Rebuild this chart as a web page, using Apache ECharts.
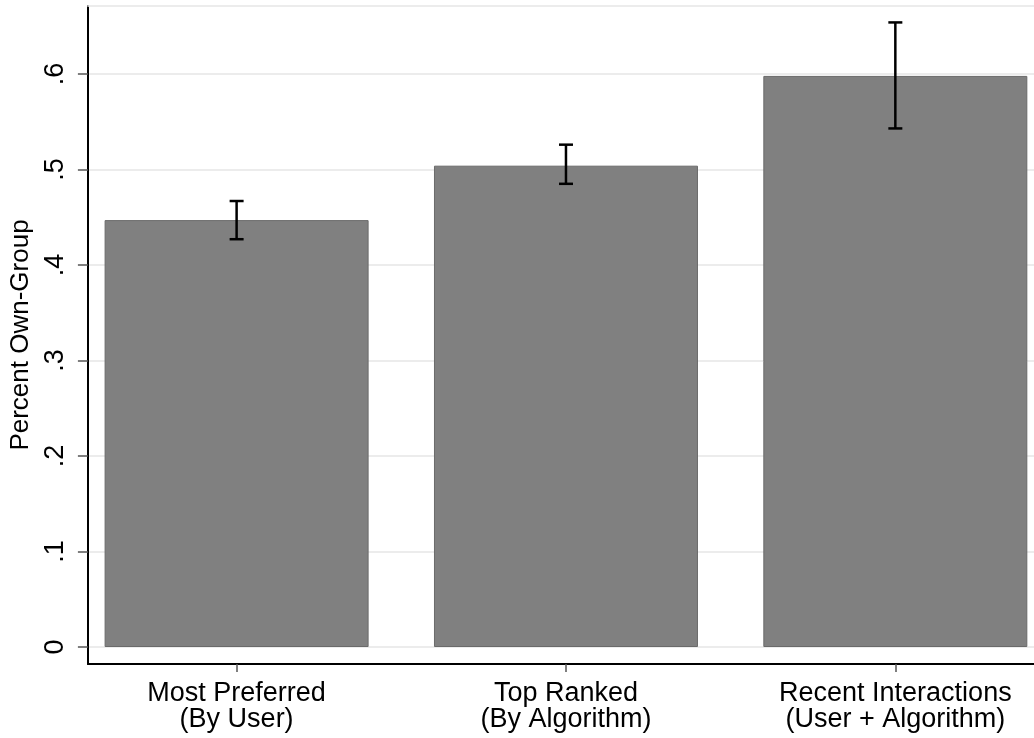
<!DOCTYPE html>
<html>
<head>
<meta charset="utf-8">
<style>
  html, body { margin: 0; padding: 0; background: #fff; }
  #chart { width: 1034px; height: 738px; }
</style>
<script src="https://cdn.jsdelivr.net/npm/echarts@6/dist/echarts.min.js"></script>
</head>
<body>
<div id="chart"></div>
<script>
// data
var categories = ['Most Preferred\n(By User)', 'Top Ranked\n(By Algorithm)', 'Recent Interactions\n(User + Algorithm)']
var positions = [1, 2, 3]
var shares = [0.447, 0.504, 0.598]
var ciLow = [0.427, 0.485, 0.543]
var ciHigh = [0.467, 0.526, 0.654]
var yTicks = [0, 0.1, 0.2, 0.3, 0.4, 0.5, 0.6]

var font = '"Liberation Sans", Arial, Helvetica, sans-serif'

var barData = []
var errData = []
for (var i = 0; i < positions.length; i++) {
  barData.push([positions[i], shares[i]])
  errData.push([positions[i], ciLow[i], ciHigh[i]])
}

var chart = echarts.init(document.getElementById('chart'))

var option = {
  animation: false,
  backgroundColor: '#fff',
  grid: {
    left: 86,
    right: 0,
    top: 6,
    bottom: 74
  },
  xAxis: [{
    type: 'value',
    min: 0.5485,
    max: 3.421,
    axisLine: {
      show: true,
      onZero: false,
      lineStyle: { color: '#000', width: 2 }
    },
    axisTick: {
      show: true,
      customValues: positions,
      length: 8,
      lineStyle: { color: '#555', width: 1.5 }
    },
    axisLabel: {
      customValues: positions,
      formatter: function (v) {
        return categories[positions.indexOf(Math.round(v))] || ''
      },
      color: '#000',
      fontFamily: font,
      fontSize: 27,
      lineHeight: 26,
      margin: 17
    },
    splitLine: { show: false }
  }, {
    type: 'value',
    position: 'top',
    min: 0.5485,
    max: 3.421,
    axisLine: {
      show: true,
      onZero: false,
      lineStyle: { color: '#e6e6e6', width: 1.5 }
    },
    axisTick: { show: false },
    axisLabel: { show: false },
    splitLine: { show: false }
  }],
  yAxis: {
    type: 'value',
    min: -0.0178,
    max: 0.6712,
    name: 'Percent Own-Group',
    nameLocation: 'middle',
    nameGap: 50,
    nameTextStyle: {
      color: '#000',
      fontFamily: font,
      fontSize: 26
    },
    axisLine: {
      show: true,
      onZero: false,
      lineStyle: { color: '#000', width: 2 }
    },
    axisTick: {
      show: true,
      customValues: yTicks,
      length: 10,
      lineStyle: { color: '#555', width: 1.5 }
    },
    axisLabel: {
      customValues: yTicks,
      rotate: 90,
      margin: 19,
      color: '#000',
      fontFamily: font,
      fontSize: 27,
      formatter: function (v) {
        if (Math.abs(v) < 1e-9) return '0'
        return String(Math.round(v * 10) / 10).replace(/^0/, '')
      }
    },
    splitLine: {
      show: true,
      lineStyle: { color: '#e6e6e6', width: 1.5 }
    }
  },
  series: [{
    type: 'bar',
    data: barData,
    barWidth: 264,
    itemStyle: {
      color: '#808080',
      borderColor: '#6a6a6a',
      borderWidth: 1
    }
  }, {
    type: 'custom',
    data: errData,
    z: 5,
    renderItem: function (params, api) {
      var x = api.value(0)
      var lo = api.coord([x, api.value(1)])
      var hi = api.coord([x, api.value(2)])
      var cap = 7
      var style = { stroke: '#000', lineWidth: 2.5 }
      return {
        type: 'group',
        children: [
          { type: 'line', shape: { x1: lo[0], y1: lo[1], x2: hi[0], y2: hi[1] }, style: style },
          { type: 'line', shape: { x1: lo[0] - cap, y1: lo[1], x2: lo[0] + cap, y2: lo[1] }, style: style },
          { type: 'line', shape: { x1: hi[0] - cap, y1: hi[1], x2: hi[0] + cap, y2: hi[1] }, style: style }
        ]
      }
    }
  }]
}

chart.setOption(option)
</script>
</body>
</html>
